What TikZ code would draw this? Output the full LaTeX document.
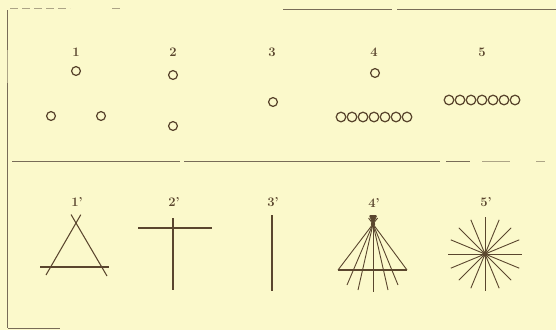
\documentclass[tikz,border=0pt]{standalone}
\usetikzlibrary{calc}
\definecolor{paper}{RGB}{251,249,203}
\definecolor{ink}{RGB}{90,70,46}
\definecolor{frame}{RGB}{120,108,88}
\begin{document}
\begin{tikzpicture}[x=1pt,y=-1pt,
  lab/.style={font=\fontsize{13}{15}\selectfont\bfseries, text=ink, inner sep=0pt},
  ring/.style={draw=ink, line width=1.25pt},
  stroke/.style={draw=ink, line width=1.05pt},
  framel/.style={draw=frame, line width=0.9pt},
  faint/.style={draw=frame!60!paper, line width=0.8pt}]
\fill[paper] (0,0) rectangle (556,330);
\useasboundingbox (0,0) rectangle (556,330);
% frame
\draw[framel] (7.5,10) -- (7.5,50);
\draw[faint] (7.5,50) -- (7.5,83);
\draw[framel] (7.5,83) -- (7.5,328);
\draw[faint, dash pattern=on 8pt off 4pt] (10,8) -- (70,8);
\draw[faint] (112,8) -- (120,8);
\draw[framel] (283,9) -- (392,9);
\draw[framel] (397,9.5) -- (556,9.5);
\draw[framel] (12,161) -- (180,161);
\draw[framel] (184,161.5) -- (440,161.5);
\draw[framel] (446,161.5) -- (470,161.5);
\draw[faint] (482,161.5) -- (510,161.5);
\draw[faint] (536,161.5) -- (545,161.5);
\draw[framel] (8,328) -- (60,328);
% top labels
\node[lab] (l1) at (76,52) {1};
\node[lab] (l2) at (173,52) {2};
\node[lab] (l3) at (272,52) {3};
\node[lab] (l4) at (374,52) {4};
\node[lab] (l5) at (482,52) {5};
% fig 1
\draw[ring] (76,71) circle (4.4);
\draw[ring] (51,116) circle (4.4);
\draw[ring] (101,116) circle (4.4);
% fig 2
\draw[ring] (173,75) circle (4.4);
\draw[ring] (173,126) circle (4.4);
% fig 3
\draw[ring] (273,102) circle (4.4);
% fig 4
\draw[ring] (375,73) circle (4.4);
\foreach \i in {0,...,6} \draw[ring] (341+11*\i,117) circle (4.8);
% fig 5
\foreach \i in {0,...,6} \draw[ring] (449+11*\i,100) circle (4.8);
% bottom labels
\node[lab] (m1) at (77,202) {1\textquoteright};
\node[lab] (m2) at (174,202) {2\textquoteright};
\node[lab] (m3) at (273,202) {3\textquoteright};
\node[lab] (m4) at (374,203) {4\textquoteright};
\node[lab] (m5) at (486,202) {5\textquoteright};
% fig 1'
\coordinate (ta) at (76,223);
\coordinate (tl) at (46,275);
\coordinate (tr) at (107,276);
\draw[stroke] ($(ta)!-0.16!(tl)$) -- (tl);
\draw[stroke] ($(ta)!-0.16!(tr)$) -- (tr);
\draw[stroke] (40,267) -- (109,267);
% fig 2'
\draw[stroke] (138,228) -- (212,228);
\draw[stroke] (173,218) -- (173,290);
% fig 3'
\draw[stroke] (272,215) -- (272,291);
% fig 4'
\coordinate (fa) at (373,224);
\draw[stroke] (338,270) -- (407,270);
\foreach \bx/\by in {338/270,347/285,358/290,373/292,388/290,398/285,407/270}
  \draw[draw=ink, line width=0.9pt] ($(fa)!-0.13!(\bx,\by)$) -- (\bx,\by);
\fill[ink] (369.5,215) -- (376.5,215) -- (fa) -- cycle;
\fill[ink] (fa) circle (2.2);
% fig 5'
\coordinate (sc) at (485,254);
\foreach \a in {0,22.5,...,337.5}
  \draw[draw=ink, line width=0.9pt] (sc) -- ++(\a:37);
\fill[ink] (sc) circle (2.8);
\end{tikzpicture}
\end{document}
